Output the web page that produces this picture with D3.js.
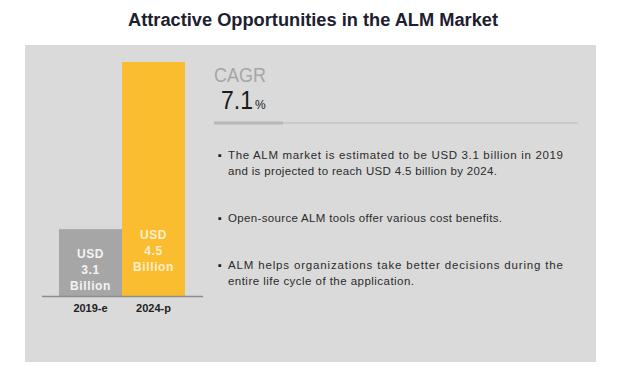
<!DOCTYPE html>
<html>
<head>
<meta charset="utf-8" />
<title>Attractive Opportunities in the ALM Market</title>
<script src="https://d3js.org/d3.v7.min.js"></script>
<style>
  body, html {
    margin: 0;
    background: #ffffff;
    font-family: 'Liberation Sans', Arial, sans-serif;
  }
</style>
</head>
<body>

<svg id="viz"></svg>

<script>

// chart values
var years = ["2019-e", "2024-p"];
var values = [3.1, 4.5];
var cagr = 7.1;
var title = "Attractive Opportunities in the ALM Market";

// bullet text, one array of lines per bullet
var bullets = [
  ["The ALM market is estimated to be USD 3.1 billion in 2019",
   "and is projected to reach USD 4.5 billion by 2024."],
  ["Open-source ALM tools offer various cost benefits."],
  ["ALM helps organizations take better decisions during the",
   "entire life cycle of the application."]
];

var width = 624,
  height = 371;

var svg = d3.select("#viz")
  .attr("width", width)
  .attr("height", height);

// title
svg.append("text")
  .attr("x", 128)
  .attr("y", 26)
  .attr("textLength", 370)
  .attr("lengthAdjust", "spacingAndGlyphs")
  .style("font-size", "18px")
  .style("font-weight", "bold")
  .style("fill", "#1c2030")
  .text(title);

// grey panel
svg.append("rect")
  .attr("x", 25)
  .attr("y", 45)
  .attr("width", 571)
  .attr("height", 317)
  .style("fill", "#dadada");

var xScale = d3.scaleBand()
  .domain(years)
  .range([59, 185])
  .padding(0);

var yScale = d3.scaleLinear()
  .domain([2.54, 4.5])
  .range([296, 62]);

var colors = ["#a6a6a6", "#fbbd30"];
var labelColors = ["#f4f4f4", "#fdf0cc"];

var bars = svg.selectAll("rect.bar")
  .data(values);

bars.enter().append("rect")
  .attr("class", "bar")
  .attr("x", function(d, i) { return xScale(years[i]); })
  .attr("y", function(d) { return yScale(d); })
  .attr("width", xScale.bandwidth())
  .attr("height", function(d) { return yScale.range()[0] - yScale(d); })
  .style("fill", function(d, i) { return colors[i]; });

// labels inside bars
values.forEach(function(v, i) {
  var lines = ["USD", d3.format(".1f")(v), "Billion"];
  var cx = xScale(years[i]) + xScale.bandwidth() / 2;
  var top = yScale(v);
  var g = svg.append("g");
  // grey bar has its label near the bottom, yellow one near the top
  var startY = i == 0 ? top + 29 : top + 177;
  lines.forEach(function(t, j) {
    g.append("text")
      .attr("x", cx)
      .attr("y", startY + j * 16)
      .attr("text-anchor", "middle")
      .style("font-size", "12px")
      .style("font-weight", "bold")
      .style("letter-spacing", "0.6px")
      .style("fill", labelColors[i])
      .text(t);
  });
});

// x axis
var xAxis = svg.append("g")
  .attr("transform", "translate(0, 296)")
  .call(d3.axisBottom(xScale).tickSize(0).tickPadding(8));

xAxis.select(".domain")
  .attr("d", "M42,0.5H203")
  .style("stroke", "#8c8c8c")
  .style("stroke-width", 1.5);

xAxis.selectAll(".tick text")
  .style("font-family", "'Liberation Sans', Arial, sans-serif")
  .style("font-size", "11px")
  .style("font-weight", "bold")
  .style("fill", "#222222");

// CAGR block
svg.append("text")
  .attr("x", 214)
  .attr("y", 82)
  .attr("textLength", 52)
  .attr("lengthAdjust", "spacingAndGlyphs")
  .style("font-size", "21px")
  .style("fill", "#a6a6a6")
  .text("CAGR");

svg.append("text")
  .attr("x", 221)
  .attr("y", 109)
  .attr("textLength", 32)
  .attr("lengthAdjust", "spacingAndGlyphs")
  .style("font-size", "25px")
  .style("fill", "#1a1a1a")
  .text(d3.format(".1f")(cagr));

svg.append("text")
  .attr("x", 255)
  .attr("y", 109)
  .style("font-size", "12px")
  .style("fill", "#1a1a1a")
  .text("%");

// divider
svg.append("line")
  .attr("x1", 214).attr("x2", 578)
  .attr("y1", 123).attr("y2", 123)
  .style("stroke", "#c4c4c4")
  .style("stroke-width", 1.5);

svg.append("line")
  .attr("x1", 214).attr("x2", 283)
  .attr("y1", 123).attr("y2", 123)
  .style("stroke", "#b8b8b8")
  .style("stroke-width", 3);

// bullets
var bulletY = [159, 222, 269];
var lineWidths = [[335, 269], [274], [335, 186]];

bullets.forEach(function(lines, i) {
  svg.append("text")
    .attr("x", 218)
    .attr("y", bulletY[i])
    .style("font-size", "11px")
    .style("fill", "#222222")
    .text("\u25aa");

  lines.forEach(function(t, j) {
    svg.append("text")
      .attr("x", 228)
      .attr("y", bulletY[i] + j * 15.5)
      .attr("textLength", lineWidths[i][j])
      .attr("lengthAdjust", "spacing")
      .style("font-size", "11.5px")
      .style("fill", "#2b2b2b")
      .text(t);
  });
});

</script>
</body>
</html>
